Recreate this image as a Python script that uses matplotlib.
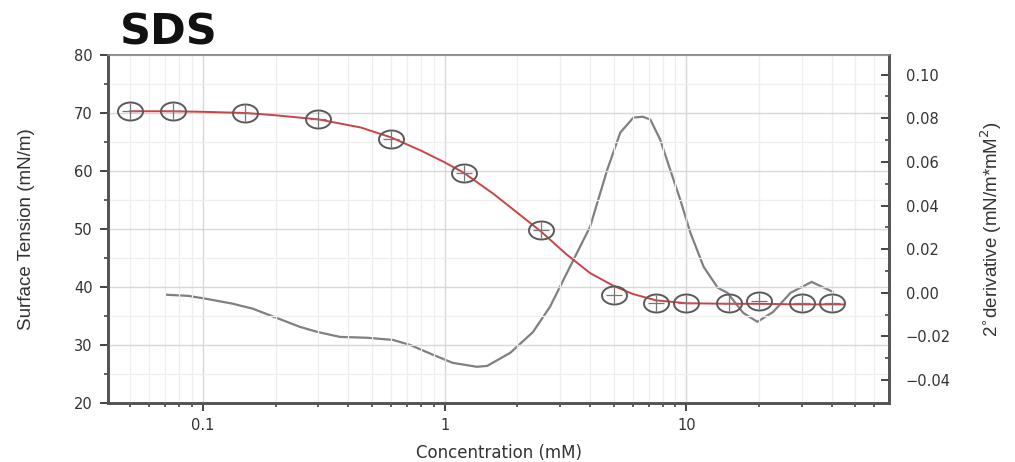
import numpy as np
import matplotlib
matplotlib.use("Agg")
import matplotlib.pyplot as plt
from matplotlib.path import Path
from matplotlib.ticker import FixedLocator, NullFormatter, LogLocator
from matplotlib import font_manager

# measured surface tension
conc = [0.05, 0.075, 0.15, 0.3, 0.6, 1.2, 2.5, 5, 7.5, 10, 15, 20, 30, 40]
tension = [70.3, 70.3, 70.0, 68.9, 65.6, 59.7, 49.8, 38.7, 37.2, 37.2, 37.3, 37.5, 37.2, 37.2]

# fitted curve
fit_x = [0.05, 0.075, 0.1, 0.15, 0.2, 0.3, 0.45, 0.6, 0.8, 1.0, 1.2, 1.6, 2.0, 2.5,
         3.2, 4.0, 5.0, 6.0, 7.5, 10, 15, 20, 30, 45]
fit_y = [70.3, 70.3, 70.2, 70.0, 69.6, 68.9, 67.5, 65.8, 63.5, 61.5, 59.7, 56.0, 52.8, 49.6,
         45.6, 42.4, 40.2, 38.8, 37.7, 37.2, 37.1, 37.1, 37.0, 37.0]

# 2nd derivative (grey line, right axis)
d2_x = [0.071, 0.087, 0.104, 0.133, 0.161, 0.202, 0.252, 0.297, 0.369, 0.478, 0.612,
        0.72, 0.896, 1.08, 1.36, 1.5, 1.87, 2.32, 2.73, 3.21, 4.0, 4.71, 5.33, 6.04,
        6.6, 7.1, 7.8, 8.58, 9.44, 10.4, 11.8, 13.5, 14.8, 17.2, 19.7, 22.9, 27.0,
        33.0, 40.3]
d2_y = [-0.0009, -0.0014, -0.0028, -0.0050, -0.0073, -0.0115, -0.0156, -0.0179, -0.0202,
        -0.0206, -0.0216, -0.0239, -0.0284, -0.0321, -0.0339, -0.0335, -0.0275, -0.0180,
        -0.0064, 0.0092, 0.0303, 0.0564, 0.0734, 0.0803, 0.0807, 0.0794, 0.0702, 0.0564,
        0.0427, 0.0275, 0.0119, 0.0023, 0.0, -0.0092, -0.0133, -0.0087, 0.0, 0.005, 0.0005]

# ellipse marker (the source image is stretched sideways)
t = np.linspace(0, 2 * np.pi, 60)
ellipse = Path(np.column_stack([np.cos(t) * 1.0, np.sin(t) * 0.72]), closed=True)

names = {f.name for f in font_manager.fontManager.ttflist}
narrow = "Liberation Sans Narrow" if "Liberation Sans Narrow" in names else "Liberation Sans"

fig = plt.figure(figsize=(10.15, 4.62), dpi=100)
ax = fig.add_axes([0.1064, 0.1277, 0.7695, 0.7533])
ax2 = ax.twinx()

ax.set_xscale("log")
ax.set_xlim(0.0405, 69)
ax.set_ylim(20, 80)
ax2.set_ylim(-0.0505, 0.109)

# grid
ax.set_yticks([20, 30, 40, 50, 60, 70, 80])
ax.yaxis.set_minor_locator(FixedLocator([25, 35, 45, 55, 65, 75]))
ax.xaxis.set_major_locator(FixedLocator([0.1, 1, 10]))
ax.xaxis.set_minor_locator(LogLocator(base=10, subs=np.arange(2, 10)))
ax.xaxis.set_minor_formatter(NullFormatter())
ax.set_xticklabels(["0.1", "1", "10"])
ax.grid(True, which="major", color="#d8d8d8", lw=1.0)
ax.grid(True, which="minor", color="#eeeeee", lw=0.9)
ax.set_axisbelow(True)

ax2.plot(d2_x, d2_y, color="#808080", lw=1.6, zorder=2, solid_joinstyle="round")
ax.plot(fit_x, fit_y, color="#c9444a", lw=1.4, zorder=3)
ax.plot(conc, tension, linestyle="none", marker=ellipse, markersize=18,
        markerfacecolor="none", markeredgecolor="#5a5a5a", markeredgewidth=1.4, zorder=4)
ax.plot(conc, tension, linestyle="none", marker="+", markersize=11,
        markeredgecolor="#777777", markeredgewidth=0.9, zorder=4)
ax.set_zorder(ax2.get_zorder() + 1)
ax.patch.set_visible(False)

ax2.set_yticks([-0.04, -0.02, 0.00, 0.02, 0.04, 0.06, 0.08, 0.10])
ax2.set_yticklabels(["\u22120.04", "\u22120.02", "0.00", "0.02", "0.04", "0.06", "0.08", "0.10"])
ax2.yaxis.set_minor_locator(FixedLocator([-0.03, -0.01, 0.01, 0.03, 0.05, 0.07, 0.09]))

for lab in ax.get_xticklabels() + ax.get_yticklabels() + ax2.get_yticklabels():
    lab.set_fontfamily("DejaVu Sans")
    lab.set_fontsize(10.5)
    lab.set_color("#333333")

ax.tick_params(axis="both", which="major", direction="out", length=6, width=1.4, color="#444444", pad=5)
ax.tick_params(axis="both", which="minor", direction="out", length=3, width=1.2, color="#444444")
ax2.tick_params(axis="y", which="major", direction="in", length=6, width=1.4, color="#444444", pad=12)
ax2.tick_params(axis="y", which="minor", direction="in", length=3, width=1.2, color="#444444")

for a in (ax, ax2):
    a.spines["left"].set_linewidth(2.0)
    a.spines["bottom"].set_linewidth(2.0)
    a.spines["right"].set_linewidth(2.0)
    a.spines["top"].set_linewidth(1.2)
    for s in a.spines.values():
        s.set_color("#555555")
    a.spines["top"].set_color("#888888")

ax.set_xlabel("Concentration (mM)", family="DejaVu Sans", fontsize=12, color="#333333", labelpad=8)
ax.set_ylabel("Surface Tension (mN/m)", family=narrow, fontsize=13.5,
              color="#333333", labelpad=28)
ax2.set_ylabel("2$^{\\circ}$derivative (mN/m*mM$^{2}$)", family=narrow,
               fontsize=13.5, color="#333333", labelpad=20)

fig.text(0.118, 0.903, "SDS", fontsize=31, fontweight="bold", family="DejaVu Sans",
         color="#111111", ha="left", va="baseline")

fig.savefig("out.png", dpi=100)
